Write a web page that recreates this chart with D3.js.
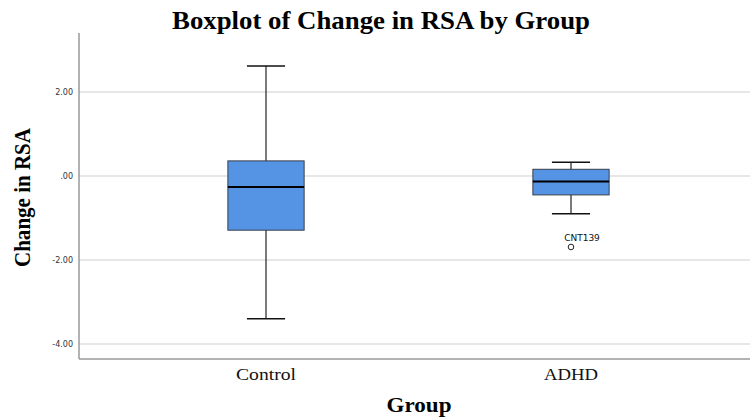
<!DOCTYPE html>
<html><head><meta charset="utf-8">
<script src="https://cdn.jsdelivr.net/npm/d3@7"></script>
<style>body{margin:0;background:#fff}svg{display:block}</style>
</head><body><svg id="c" width="750" height="418"></svg>
<script>
const groups = ["Control", "ADHD"];
const upperWhisker = [2.62, 0.33];
const q3 = [0.36, 0.16];
const median = [-0.26, -0.13];
const q1 = [-1.29, -0.45];
const lowerWhisker = [-3.40, -0.90];
const outlierGroups = ["ADHD"];
const outlierValues = [-1.69];
const outlierLabels = ["CNT139"];
const yTicks = [2, 0, -2, -4];

(function () {
const svg = d3.select("#c");
const pL = 79, pR = 750, pT = 33, pB = 359;
const y = d3.scaleLinear().domain([-4.357, 3.405]).range([pB, pT]);
const x = d3.scaleBand().domain(groups).range([113.5, 723.5]).padding(0);
const bw = x.bandwidth() * 0.25, cap = bw * 0.5;
const cx = g => x(g) + x.bandwidth() / 2;

svg.append("g").selectAll("line").data(yTicks).join("line")
  .attr("x1", pL).attr("x2", pR).attr("y1", d => y(d)).attr("y2", d => y(d))
  .attr("stroke", "#cfcfcf").attr("stroke-width", 1);

const yAxis = d3.axisLeft(y).tickValues(yTicks).tickSize(0).tickPadding(6)
  .tickFormat(d => d === 0 ? ".00" : d3.format(".2f")(d).replace("−", "-"));
const gy = svg.append("g").attr("transform", `translate(${pL},0)`).call(yAxis);
gy.select(".domain").remove();
gy.selectAll("text").attr("font-family", "DejaVu Sans").attr("font-size", 8).attr("fill", "#333");
svg.append("line").attr("x1", pL).attr("x2", pL).attr("y1", pT).attr("y2", pB).attr("stroke", "#999").attr("stroke-width", 1.5);
svg.append("line").attr("x1", pL).attr("x2", pR).attr("y1", pB).attr("y2", pB).attr("stroke", "#999").attr("stroke-width", 1.5);

const xLabelWidths = {Control: 60, ADHD: 54};
const xAxis = d3.axisBottom(x).tickSize(0).tickPadding(9);
const gx = svg.append("g").attr("transform", `translate(0,${pB})`).call(xAxis);
gx.select(".domain").remove();
gx.selectAll("text").attr("font-family", "Liberation Serif").attr("font-size", 17).attr("fill", "#111")
  .attr("textLength", d => xLabelWidths[d]).attr("lengthAdjust", "spacingAndGlyphs");

const data = groups.map((g, i) => ({g, hi: upperWhisker[i], q3: q3[i], med: median[i], q1: q1[i], lo: lowerWhisker[i]}));
const bx = svg.append("g").selectAll("g").data(data).join("g");
bx.append("line").attr("x1", d => cx(d.g)).attr("x2", d => cx(d.g)).attr("y1", d => y(d.hi)).attr("y2", d => y(d.lo))
  .attr("stroke", "#222").attr("stroke-width", 1.2);
bx.append("line").attr("x1", d => cx(d.g) - cap / 2).attr("x2", d => cx(d.g) + cap / 2)
  .attr("y1", d => y(d.hi)).attr("y2", d => y(d.hi)).attr("stroke", "#111").attr("stroke-width", 1.5);
bx.append("line").attr("x1", d => cx(d.g) - cap / 2).attr("x2", d => cx(d.g) + cap / 2)
  .attr("y1", d => y(d.lo)).attr("y2", d => y(d.lo)).attr("stroke", "#111").attr("stroke-width", 1.5);
bx.append("rect").attr("x", d => cx(d.g) - bw / 2).attr("width", bw)
  .attr("y", d => y(d.q3)).attr("height", d => y(d.q1) - y(d.q3))
  .attr("fill", "#5594e4").attr("stroke", "#3a3f4a").attr("stroke-width", 1);
bx.append("line").attr("x1", d => cx(d.g) - bw / 2).attr("x2", d => cx(d.g) + bw / 2)
  .attr("y1", d => y(d.med)).attr("y2", d => y(d.med)).attr("stroke", "#000").attr("stroke-width", 2);

const od = outlierGroups.map((g, i) => ({g, v: outlierValues[i], l: outlierLabels[i]}));
svg.append("g").selectAll("circle").data(od).join("circle")
  .attr("cx", d => cx(d.g)).attr("cy", d => y(d.v)).attr("r", 2.8)
  .attr("fill", "none").attr("stroke", "#222").attr("stroke-width", 1);
svg.append("g").selectAll("text").data(od).join("text")
  .attr("x", d => cx(d.g) + 11).attr("y", d => y(d.v) - 6).attr("text-anchor", "middle")
  .attr("font-family", "DejaVu Sans").attr("font-size", 9).attr("fill", "#111").text(d => d.l);

svg.append("text").attr("x", 381).attr("y", 28.5).attr("text-anchor", "middle")
  .attr("font-family", "Liberation Serif").attr("font-weight", "bold").attr("font-size", 25).attr("fill", "#000")
  .attr("textLength", 418).attr("lengthAdjust", "spacingAndGlyphs")
  .text("Boxplot of Change in RSA by Group");
svg.append("text").attr("transform", "translate(30,197.5) rotate(-90)").attr("text-anchor", "middle")
  .attr("font-family", "Liberation Serif").attr("font-weight", "bold").attr("font-size", 23).attr("fill", "#000")
  .attr("textLength", 139).attr("lengthAdjust", "spacingAndGlyphs")
  .text("Change in RSA");
svg.append("text").attr("x", 419).attr("y", 412).attr("text-anchor", "middle")
  .attr("font-family", "Liberation Serif").attr("font-weight", "bold").attr("font-size", 21).attr("fill", "#000")
  .attr("textLength", 65).attr("lengthAdjust", "spacingAndGlyphs")
  .text("Group");
})();
</script></body></html>
